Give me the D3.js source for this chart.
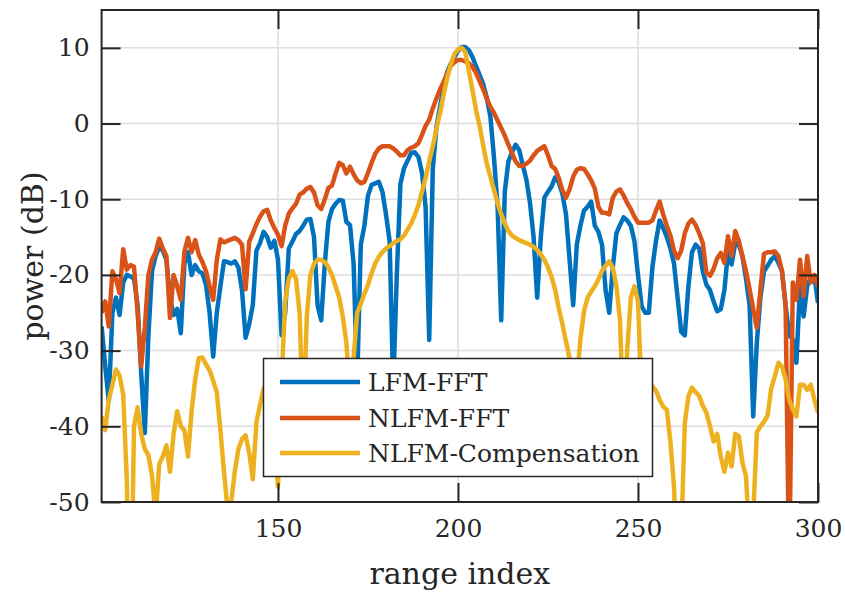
<!DOCTYPE html>
<meta charset="utf-8">
<script src="https://d3js.org/d3.v7.min.js"></script>
<style>
  body { margin: 0; background: #fff; }
  text { font-family: "DejaVu Serif", serif; fill: #262626; }
</style>
<div id="my_dataviz"></div>
<script>

// range index 101..300 and the three curves (dB)
var rangeIndex = d3.range(101, 301);

var lfmFFT = [
  -26.8, -32, -36.7, -25, -23, -25.3, -21, -20, -20.2, -20.5,
  -24, -33, -40.9, -28, -19.5, -17.5, -16.3, -16.8, -18, -23,
  -25.3, -24.5, -27.7, -18.5, -17, -20, -18.7, -19.5, -19.8, -21.3,
  -25, -30.8, -25, -21.5, -18.2, -18.3, -18.5, -18.2, -19, -22,
  -28.3, -26.5, -24, -16.8, -15.8, -14.3, -15, -16.4, -15.5, -18,
  -28, -25, -16.5, -15.6, -14.6, -14.2, -13.5, -12.7, -12.6, -15,
  -24, -26, -18.5, -13, -11.3, -10.6, -10.1, -10.2, -13, -13.4,
  -18.5, -34, -16, -13.5, -9.5, -8.1, -7.9, -7.7, -9, -12,
  -15.5, -35, -20, -8, -5.9, -4.9, -3.9, -3.8, -4.4, -6.5,
  -11, -28.6, -6, -0.5, 2.2, 4.8, 6.8, 7.9, 8.8, 9.6,
  10.1, 10.1, 9.7, 8.8, 7.6, 6.4, 5.2, 3.4, 0.9, -4.5,
  -11, -26, -9, -5, -3.8, -2.8, -3.5, -5.5, -7.4, -10.5,
  -15, -23, -15, -9.8, -9, -8.3, -7.1, -7.8, -9.3, -12,
  -18, -24, -16, -13.5, -11.5, -11, -10.3, -13.5, -14.3, -16,
  -22, -25, -19, -14.5, -13.4, -12.4, -12.8, -13.5, -15.5, -20,
  -24.1, -25, -25, -19, -15.5, -12.8, -13.8, -15, -16.5, -18.5,
  -23, -27.5, -28, -21.5, -17, -16, -16.5, -19.5, -21.3, -22,
  -23.5, -24.8, -24.5, -22, -17, -18.6, -15.8, -16, -17.5, -20.5,
  -24, -38.7, -29, -23, -19.5, -18.8, -18, -17.5, -18.4, -19.5,
  -24, -28, -28.5, -31.6, -21.5, -25.5, -21.5, -20.3, -20.2, -23.7
];

var nlfmFFT = [
  -25, -23.5, -26.8, -19.5, -20.6, -22.4, -16.6, -19.3, -18.7, -18.9,
  -25, -32.1, -27, -20, -18, -17, -15.2, -16.5, -17.5, -25.7,
  -20, -21.5, -23.3, -16.9, -15.1, -17, -15.4, -17.3, -18.3, -19.5,
  -21.5, -23.3, -18, -15.3, -15.7, -15.5, -15.3, -15.1, -15.4, -16,
  -21.9, -15.6, -14.5, -13.3, -12.3, -11.6, -11.4, -12.8, -13.8, -14.7,
  -16.2, -13.5, -11.9, -11.2, -10.6, -9.4, -9.1, -8.6, -8.4, -9.1,
  -10.8, -11.3, -10, -8.5, -8.2, -6.6, -5.2, -5.5, -6.6, -5.7,
  -6.7, -7.5, -7.9, -7.7, -6.5, -5.2, -4, -3.3, -3, -3,
  -3, -3.3, -3.7, -4.2, -4.2, -3.5, -3.2, -3, -2.6, -1.5,
  -0.3, 0.5, 2, 3.3, 4.5, 5.5, 6.6, 7.6, 8.1, 8.4,
  8.4, 8.2, 8, 7.5, 6.7, 5.6, 4.5, 3.3, 2.2, 1.4,
  0.4, -0.6, -1.6, -2.8, -3.9, -5, -5.6, -5.6, -5.3, -4.9,
  -4.2, -3.6, -3.3, -3, -4.2, -5.6, -6, -7.2, -8.8, -9.8,
  -8.7, -7, -6.1, -5.9, -6, -6.7, -7.5, -8.6, -11, -11.8,
  -11.8, -12, -9.8, -9, -8.7, -9.5, -10.5, -11.3, -12.3, -13.1,
  -13.1, -13.1, -13.1, -12.8, -11.5, -10.3, -12, -13.5, -14.8, -16.8,
  -17.8, -16.8, -14.5, -13.2, -12.7, -13.4, -14.5, -15.8, -19.7, -20.1,
  -19.2, -17.8, -17.1, -18.4, -14.9, -17.5, -14.2, -15.5, -17.5, -19.5,
  -21.9, -24.5, -27, -22, -17.2, -17, -17, -16.9, -17.5, -19.5,
  -24, -60, -21, -23.3, -18, -22.8, -17.5, -21, -20, -21.5
];

var nlfmComp = [
  -38.7, -40.5, -36.5, -34.5, -32.5, -33.3, -35.8, -47, -70, -40,
  -37.5, -41, -43, -43.8, -46.5, -52, -45, -44, -42.5, -46,
  -41, -38, -40, -40.5, -44, -38, -33.8, -31, -30.9, -31.8,
  -32.6, -34, -35.5, -40.5, -46, -51, -50, -46, -43, -41.7,
  -41.2, -43.5, -47, -39.5, -37.2, -35, -34.5, -35.5, -39, -48,
  -34, -23.5, -20.5, -19.5, -20.5, -25, -40, -25.5, -20, -18.5,
  -18, -18, -18.3, -19, -20, -21.5, -23, -25.5, -29, -36,
  -31, -25, -23.8, -22.5, -21.3, -19.8, -18.5, -17.6, -17, -16.5,
  -16.2, -15.8, -15.5, -15.3, -14.8, -14, -13.2, -12.1, -10.8, -9,
  -7.2, -5, -3, -0.7, 1.4, 3.8, 6, 7.8, 9.2, 9.8,
  10, 9.5, 7, 4.5, 1.8, -0.3, -2.9, -5.3, -7, -8.8,
  -10.5, -12, -13.2, -14.2, -14.8, -15.1, -15.4, -15.6, -15.8, -16,
  -16.3, -16.7, -17.3, -18, -19, -20.3, -22, -24.4, -26.5, -28.8,
  -31, -40, -34, -28.5, -24.8, -23, -22.2, -21.5, -20.6, -19.5,
  -18.8, -18.2, -19, -21.5, -26, -40, -30, -23, -21.5, -23.5,
  -36, -38, -36, -34.7, -35.3, -36.5, -37.4, -37.8, -42, -48,
  -60, -55, -39.6, -36, -34.9, -35.5, -36, -37.3, -38.2, -40,
  -42, -41, -44, -46, -43.5, -45.3, -41, -41.3, -44.8, -46.6,
  -55, -52, -40.8, -40, -39.4, -38.6, -35, -33.4, -31.6, -32.1,
  -33.8, -36.5, -37.8, -38.7, -34.5, -34.5, -35.2, -34.5, -36.5, -38.2
];

var seriesNames = ["LFM-FFT", "NLFM-FFT", "NLFM-Compensation"];
var seriesColors = ["#0072BD", "#D95319", "#EDB120"];
var xTicks = [150, 200, 250, 300];
var yTicks = [-50, -40, -30, -20, -10, 0, 10];

var width = 845, height = 594;
var plot = {left: 101.6, right: 818, top: 10, bottom: 502};

var svg = d3.select("#my_dataviz")
  .append("svg")
  .attr("width", width)
  .attr("height", height);

var x = d3.scaleLinear().domain([101, 300]).range([plot.left, plot.right]);
var y = d3.scaleLinear().domain([-50, 15]).range([plot.bottom, plot.top]);

// grid
svg.append("g").selectAll("line")
  .data(xTicks).enter().append("line")
  .attr("x1", d => x(d)).attr("x2", d => x(d))
  .attr("y1", plot.top).attr("y2", plot.bottom)
  .attr("stroke", "#dedede").attr("stroke-width", 1.5);
svg.append("g").selectAll("line")
  .data(yTicks).enter().append("line")
  .attr("x1", plot.left).attr("x2", plot.right)
  .attr("y1", d => y(d)).attr("y2", d => y(d))
  .attr("stroke", "#dedede").attr("stroke-width", 1.5);

// curves
svg.append("clipPath").attr("id", "clip")
  .append("rect")
  .attr("x", plot.left).attr("y", plot.top)
  .attr("width", plot.right - plot.left).attr("height", plot.bottom - plot.top);

var line = d3.line()
  .x((d, i) => x(rangeIndex[i]))
  .y(d => y(d));

[lfmFFT, nlfmFFT, nlfmComp].forEach(function(s, k) {
  svg.append("path")
    .datum(s)
    .attr("clip-path", "url(#clip)")
    .attr("d", line)
    .attr("fill", "none")
    .attr("stroke", seriesColors[k])
    .attr("stroke-width", 4.5)
    .attr("stroke-linejoin", "round");
});

// axes, ticks inward on all four sides
var fmt = d => String(d);
var tickLen = 19;

svg.append("g")
  .attr("transform", "translate(0," + plot.bottom + ")")
  .call(d3.axisBottom(x).tickValues(xTicks).tickSize(-tickLen).tickPadding(17).tickFormat(fmt));
svg.append("g")
  .attr("transform", "translate(0," + plot.top + ")")
  .call(d3.axisTop(x).tickValues(xTicks).tickSize(-tickLen).tickFormat(""));
svg.append("g")
  .attr("transform", "translate(" + plot.left + ",0)")
  .call(d3.axisLeft(y).tickValues(yTicks).tickSize(-tickLen).tickPadding(12).tickFormat(fmt));
svg.append("g")
  .attr("transform", "translate(" + plot.right + ",0)")
  .call(d3.axisRight(y).tickValues(yTicks).tickSize(-tickLen).tickFormat(""));

svg.selectAll(".domain").remove();
svg.selectAll(".tick line").attr("stroke", "#262626").attr("stroke-width", 2);
svg.selectAll(".tick text")
  .attr("font-family", "DejaVu Serif, serif")
  .attr("font-size", 25)
  .attr("fill", "#262626");

svg.append("rect")
  .attr("x", plot.left).attr("y", plot.top)
  .attr("width", plot.right - plot.left).attr("height", plot.bottom - plot.top)
  .attr("fill", "none").attr("stroke", "#262626").attr("stroke-width", 2);

// axis labels
svg.append("text")
  .attr("x", (plot.left + plot.right) / 2).attr("y", 584)
  .attr("text-anchor", "middle")
  .attr("font-size", 30)
  .text("range index");
svg.append("text")
  .attr("transform", "translate(43," + ((plot.top + plot.bottom) / 2) + ") rotate(-90)")
  .attr("text-anchor", "middle")
  .attr("font-size", 30)
  .text("power (dB)");

// legend
var legend = svg.append("g");
legend.append("rect")
  .attr("x", 263.5).attr("y", 358.5)
  .attr("width", 389).attr("height", 118)
  .attr("fill", "#fff").attr("stroke", "#262626").attr("stroke-width", 1.5);

var legendY = [382, 418, 453];
legend.selectAll("line")
  .data(seriesNames).enter().append("line")
  .attr("x1", 280).attr("x2", 360)
  .attr("y1", (d, i) => legendY[i]).attr("y2", (d, i) => legendY[i])
  .attr("stroke", (d, i) => seriesColors[i])
  .attr("stroke-width", 4.5);
legend.selectAll("text")
  .data(seriesNames).enter().append("text")
  .attr("x", 368)
  .attr("y", (d, i) => legendY[i] + 9)
  .attr("font-size", 25)
  .text(d => d);

</script>
